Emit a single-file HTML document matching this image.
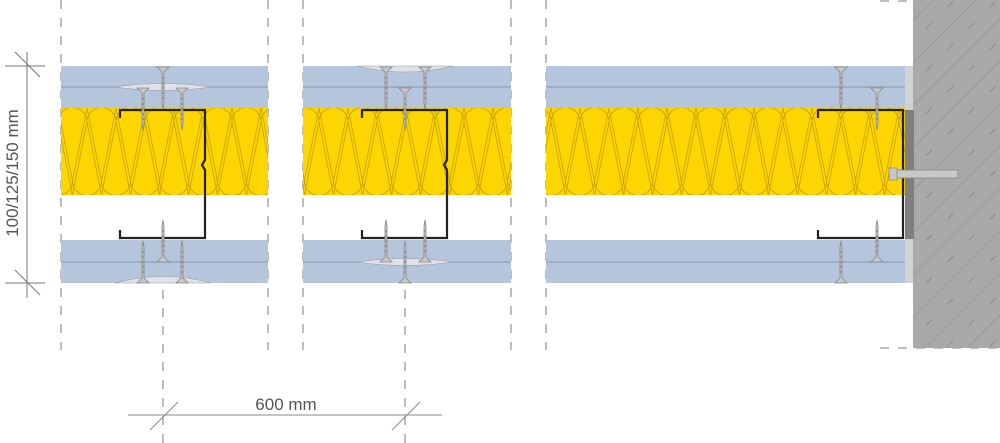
<!DOCTYPE html>
<html><head><meta charset="utf-8"><style>
html,body{margin:0;padding:0;background:#fff;}
svg{display:block;}
text{font-family:"Liberation Sans",sans-serif;fill:#555;}
</style></head><body>
<svg width="1000" height="443" viewBox="0 0 1000 443" xmlns="http://www.w3.org/2000/svg">
<defs>
<pattern id="wool" x="0" y="108" width="29" height="87" patternUnits="userSpaceOnUse">
<rect width="29" height="87" fill="#fdd500"/>
<path d="M0,14 A14.5,14.5 0 0 1 29,14 M0,14 L14.5,87 M29,14 L14.5,87 M-14.5,73 A14.5,14.5 0 0 0 14.5,73 M14.5,73 A14.5,14.5 0 0 0 43.5,73 M14.5,73 L0,0 M14.5,73 L29,0" fill="none" stroke="#c9a400" stroke-width="0.9"/>
</pattern>
<pattern id="hatch" width="30" height="30" patternUnits="userSpaceOnUse" patternTransform="rotate(-45)">
<rect width="30" height="30" fill="#a9a9a9"/>
<line x1="0" y1="0" x2="30" y2="0" stroke="#8a8a8a" stroke-width="1"/>
<line x1="5" y1="15" x2="13" y2="15" stroke="#8a8a8a" stroke-width="1"/>
</pattern>
<g id="screw">
<path d="M-6,0 L6,0 L1,5 L1,36 L0,42 L-1,36 L-1,5 Z" fill="#c8c8c8" stroke="#888" stroke-width="0.8"/>
<path d="M-1,10 L1,12 M-1,15 L1,17 M-1,20 L1,22 M-1,25 L1,27 M-1,30 L1,32" stroke="#888" stroke-width="1"/>
</g>
<g id="screwup">
<path d="M-6,0 L6,0 L1,-5 L1,-36 L0,-42 L-1,-36 L-1,-5 Z" fill="#c8c8c8" stroke="#888" stroke-width="0.8"/>
<path d="M-1,-10 L1,-12 M-1,-15 L1,-17 M-1,-20 L1,-22 M-1,-25 L1,-27 M-1,-30 L1,-32" stroke="#888" stroke-width="1"/>
</g>
</defs>

<g stroke="#999" stroke-width="1.3" stroke-dasharray="9,9">
<line x1="61" y1="0" x2="61" y2="350"/>
<line x1="268" y1="0" x2="268" y2="350"/>
<line x1="303" y1="0" x2="303" y2="350"/>
<line x1="511" y1="0" x2="511" y2="350"/>
<line x1="546" y1="0" x2="546" y2="350"/>
<line x1="163" y1="290" x2="163" y2="443"/>
<line x1="405" y1="290" x2="405" y2="443"/>
<line x1="880" y1="1" x2="1000" y2="1"/>
<line x1="880" y1="348" x2="1000" y2="348"/>
</g>

<rect x="913" y="0" width="87" height="348" fill="url(#hatch)"/>
<rect x="905" y="66" width="8" height="217" fill="#d2d2d2"/>
<rect x="905" y="110" width="9" height="129" fill="#7f7f7f"/>

<g>
<rect x="61" y="66" width="207" height="42" fill="#b5c5dc"/>
<rect x="303" y="66" width="208" height="42" fill="#b5c5dc"/>
<rect x="546" y="66" width="359" height="42" fill="#b5c5dc"/>
<rect x="61" y="240" width="207" height="43" fill="#b5c5dc"/>
<rect x="303" y="240" width="208" height="43" fill="#b5c5dc"/>
<rect x="546" y="240" width="359" height="43" fill="#b5c5dc"/>
<rect x="61" y="108" width="207" height="87" fill="url(#wool)"/>
<rect x="303" y="108" width="208" height="87" fill="url(#wool)"/>
<rect x="546" y="108" width="359" height="87" fill="url(#wool)"/>
</g>
<g stroke="#8fa0b8" stroke-width="1.2">
<line x1="61" y1="87" x2="268" y2="87"/><line x1="303" y1="87" x2="511" y2="87"/><line x1="546" y1="87" x2="905" y2="87"/>
<line x1="61" y1="262" x2="268" y2="262"/><line x1="303" y1="262" x2="511" y2="262"/><line x1="546" y1="262" x2="905" y2="262"/>
</g>
<path d="M115,87 Q163,80 211,87 Q163,94 115,87Z" fill="#dfe3e8" stroke="#99a" stroke-width="0.6"/>
<path d="M115,283 Q163,270 211,283Z" fill="#dfe3e8" stroke="#99a" stroke-width="0.6"/>
<path d="M357,66 Q405,78 453,66Z" fill="#dfe3e8" stroke="#99a" stroke-width="0.6"/>
<path d="M357,262 Q405,255 453,262 Q405,269 357,262Z" fill="#dfe3e8" stroke="#99a" stroke-width="0.6"/>

<g fill="none" stroke="#222" stroke-width="2.2">
<path d="M120,118 L120,110 L205,110 L205,160 L202,165 L205,170 L205,238 L120,238 L120,230"/>
<path d="M362,118 L362,110 L447,110 L447,160 L444,165 L447,170 L447,238 L362,238 L362,230"/>
<path d="M818,118 L818,110 L903,110 L903,238 L818,238 L818,230"/>
</g>

<use href="#screw" x="163" y="67"/>
<use href="#screw" x="143" y="88"/><use href="#screw" x="182" y="88"/>
<use href="#screw" x="405" y="88"/>
<use href="#screw" x="386" y="67"/><use href="#screw" x="425" y="67"/>
<use href="#screw" x="841" y="67"/><use href="#screw" x="877" y="88"/>
<use href="#screwup" x="143" y="283"/>
<use href="#screwup" x="182" y="283"/>
<use href="#screwup" x="163" y="262"/>
<use href="#screwup" x="386" y="262"/>
<use href="#screwup" x="425" y="262"/>
<use href="#screwup" x="405" y="283"/>
<use href="#screwup" x="841" y="283"/>
<use href="#screwup" x="877" y="262"/>
<rect x="890" y="170" width="68" height="8" fill="#c8c8c8" stroke="#888" stroke-width="0.8"/>
<rect x="889" y="168" width="8" height="12" fill="#c8c8c8" stroke="#888" stroke-width="0.8"/>

<g stroke="#777" stroke-width="1">
<line x1="27" y1="52" x2="27" y2="298"/>
<line x1="5" y1="66" x2="45" y2="66"/><line x1="5" y1="283" x2="45" y2="283"/>
<line x1="15" y1="52" x2="40" y2="77"/><line x1="15" y1="270" x2="40" y2="295"/>
</g>
<text x="0" y="0" font-size="17" text-anchor="middle" transform="translate(18,173) rotate(-90)">100/125/150 mm</text>

<g stroke="#888" stroke-width="1">
<line x1="128" y1="415" x2="442" y2="415"/>
<line x1="150" y1="430" x2="178" y2="402"/>
<line x1="392" y1="430" x2="420" y2="402"/>
</g>
<text x="286" y="410" font-size="17" text-anchor="middle">600 mm</text>
</svg>
</body></html>
